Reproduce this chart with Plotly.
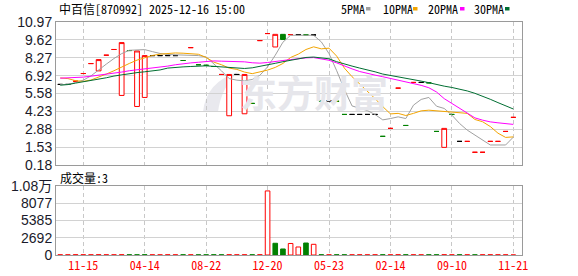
import plotly.graph_objects as go

# ---------------- data ----------------
dates_ticks = ["11-15", "04-14", "08-22", "12-20", "05-23", "02-14", "09-10", "11-21"]
tick_idx = [3, 11, 19, 27, 35, 43, 51, 59]

opens = [6.27, 6.27, 6.51, 7.09, 7.84, 7.29, 8.47, 8.90, 5.44, 8.82,
         4.61, 5.29, 8.44, 8.44, 8.44, 8.44, 8.07, 9.04, 7.75, 7.71,
         7.62, 7.02, 3.91, 7.02, 4.06, 4.84, 9.57, 10.10, 9.09, 10.04,
         10.02, 10.02, 10.00, 10.00, 5.03, 5.03, 5.00, 4.01, 4.01, 4.01,
         4.01, 4.01, 2.36, 2.96, 5.99, 3.18, 6.42, 6.42, 6.39, 2.73,
         1.53, 4.01, 1.98, 1.98, 1.16, 1.16, 1.98, 1.98, 2.73, 3.79]
closes = [6.27, 6.27, 6.51, 7.09, 7.84, 8.14, 8.47, 8.90, 9.42, 8.82,
          8.79, 8.44, 8.44, 8.44, 8.44, 8.44, 8.07, 9.04, 7.75, 7.71,
          7.62, 7.02, 7.02, 7.02, 7.02, 4.84, 9.57, 10.10, 10.04, 9.65,
          10.02, 10.02, 10.00, 10.00, 5.03, 5.03, 5.00, 4.01, 4.01, 4.01,
          4.01, 4.01, 2.36, 2.96, 5.99, 3.18, 6.42, 6.42, 6.39, 2.73,
          2.96, 4.01, 1.98, 1.98, 1.16, 1.16, 1.98, 1.98, 2.73, 3.79]
# candle colour class: r = up, g = down, k = flat
candle_cls = list("kkrrrrrrrg" "rrkkkkgrgg" "grrkrgrrrg" "rkgkgkggkk"
                  "kkgrrgrkgg" "rgkrrrrrrr")
volumes = [30, 25, 40, 35, 30, 45, 30, 25, 40, 35,
           30, 40, 25, 20, 30, 25, 35, 30, 25, 30,
           35, 30, 40, 25, 30, 35, 40, 10000, 1830, 940,
           1800, 1250, 1870, 1670, 40, 30, 35, 30, 25, 30,
           25, 30, 35, 30, 40, 35, 30, 25, 30, 35,
           40, 30, 35, 30, 25, 30, 35, 30, 25, 3]

ma5 = [6.26, 6.26, 6.41, 6.59, 6.91, 7.39, 7.80, 8.22, 8.59, 8.84,
       8.89, 8.89, 8.74, 8.60, 8.52, 8.49, 8.47, 8.47, 8.44, 8.34,
       7.84, 7.29, 6.71, 6.59, 6.54, 6.64, 6.96, 7.59, 8.47, 9.45,
       9.97, 9.97, 9.97, 9.97, 9.47, 8.59, 7.30, 5.90, 4.65, 4.45,
       4.30, 4.00, 3.60, 3.70, 3.83, 3.70, 4.71, 5.14, 5.29, 4.63,
       4.46, 3.96, 3.33, 2.83, 2.46, 2.08, 1.71, 1.71, 1.71, 2.30]
ma10 = [6.76, 6.71, 6.55, 6.50, 6.60, 6.80, 7.05, 7.30, 7.60, 7.85,
        8.10, 8.30, 8.45, 8.55, 8.62, 8.64, 8.62, 8.60, 8.54, 8.30,
        7.95, 7.75, 7.50, 7.40, 7.20, 7.08, 7.20, 7.35, 7.55, 7.85,
        8.30, 8.55, 8.90, 9.10, 8.95, 9.00, 8.40, 7.50, 6.85, 6.30,
        5.80, 5.20, 4.60, 4.05, 4.09, 3.93, 4.09, 4.28, 4.33, 4.28,
        4.20, 4.15, 4.13, 4.09, 3.63, 3.46, 3.10, 2.60, 2.28, 2.32]
ma20 = [6.74, 6.75, 6.77, 6.82, 6.89, 6.96, 7.06, 7.12, 7.20, 7.30,
        7.37, 7.42, 7.47, 7.55, 7.65, 7.75, 7.84, 7.89, 7.94, 7.99,
        8.04, 8.02, 8.02, 8.02, 7.97, 7.90, 7.87, 7.92, 7.97, 8.07,
        8.14, 8.22, 8.27, 8.29, 8.19, 8.09, 7.89, 7.64, 7.44, 7.24,
        7.09, 6.97, 6.85, 6.72, 6.58, 6.47, 6.35, 6.20, 6.02, 5.70,
        5.20, 4.84, 4.45, 4.09, 3.75, 3.58, 3.45, 3.38, 3.30, 3.26]
ma30 = [6.21, 6.26, 6.37, 6.46, 6.57, 6.67, 6.77, 6.90, 7.00, 7.08,
        7.16, 7.22, 7.29, 7.36, 7.50, 7.57, 7.59, 7.62, 7.65, 7.67,
        7.63, 7.60, 7.55, 7.50, 7.47, 7.52, 7.62, 7.75, 7.86, 7.98,
        8.10, 8.22, 8.30, 8.33, 8.27, 8.20, 7.98, 7.80, 7.65, 7.50,
        7.38, 7.22, 7.05, 6.95, 6.84, 6.76, 6.66, 6.52, 6.40, 6.25,
        6.14, 6.04, 5.92, 5.78, 5.60, 5.40, 5.15, 4.90, 4.65, 4.42]

price_ticks = [0.18, 1.53, 2.88, 4.23, 5.58, 6.92, 8.27, 9.62, 10.97]
vol_ticks = [0, 2692, 5385, 8077, 10770]
vol_tick_text = ["0", "2692", "5385", "8077", "1.08万"]

# ---------------- style ----------------
W, H = 578, 276
ML, MR, MT, MB = 56, 56, 22, 21
PW, PH = W - ML - MR, H - MT - MB
RED, GREEN, BLACK = "#ff0000", "#008000", "#000000"
MA_COLORS = ["#a0a0a0", "#f2a400", "#ff00ff", "#006e32"]
GRID = "#d2d2d2"
BORDER = "#9a9a9a"


def px(x):
    return (x - ML) / PW


def py(y):
    return (H - MB - y) / PH


idx = list(range(len(closes)))
fig = go.Figure()

# MA lines
for vals, col in zip([ma5, ma10, ma20, ma30], MA_COLORS):
    fig.add_trace(go.Scatter(x=idx, y=vals, mode="lines",
                             line=dict(color=col, width=1),
                             hoverinfo="skip", showlegend=False,
                             xaxis="x", yaxis="y"))

# candles by colour
for cls, col, fill in [("r", RED, "#ffffff"), ("g", GREEN, GREEN), ("k", BLACK, BLACK)]:
    sel = [i for i in idx if candle_cls[i] == cls]
    o = [opens[i] for i in sel]
    c = [closes[i] for i in sel]
    hi = [max(opens[i], closes[i]) for i in sel]
    lo = [min(opens[i], closes[i]) for i in sel]
    style = dict(line=dict(color=col, width=1), fillcolor=fill)
    fig.add_trace(go.Candlestick(x=sel, open=o, high=hi, low=lo, close=c,
                                 increasing=style, decreasing=style,
                                 whiskerwidth=0, hoverinfo="skip",
                                 showlegend=False, xaxis="x", yaxis="y"))

# volume bars: red hollow if close >= previous close, else green filled
vfill, vline = [], []
for i in idx:
    up = True if i == 0 else closes[i] >= closes[i - 1]
    vfill.append("#ffffff" if up else GREEN)
    vline.append(RED if up else GREEN)
fig.add_trace(go.Bar(x=idx, y=volumes, width=0.6,
                     marker=dict(color=vfill, line=dict(color=vline, width=1)),
                     hoverinfo="skip", showlegend=False, xaxis="x2", yaxis="y2"))

xr = [-0.55, 60.13]
axis_common = dict(showline=True, mirror=True, linecolor=BORDER, linewidth=1,
                   zeroline=False, ticks="", automargin=False)
num_font = "Liberation Sans Narrow, Liberation Sans, Arial"
fig.update_layout(
    width=W, height=H,
    margin=dict(l=ML, r=MR, t=MT, b=MB, autoexpand=False),
    paper_bgcolor="white", plot_bgcolor="white",
    showlegend=False, boxgap=0.38, boxgroupgap=0,
    xaxis=dict(domain=[0, 1], range=xr, anchor="y", tickvals=tick_idx,
               showticklabels=False, showgrid=True, gridcolor="#c8c8c8",
               griddash="4px,3px", gridwidth=1, rangeslider=dict(visible=False),
               **axis_common),
    yaxis=dict(domain=[py(165.3), 1], range=[price_ticks[0], price_ticks[-1]],
               anchor="x", tickvals=price_ticks,
               ticktext=[f"{v:.2f}" for v in price_ticks],
               showgrid=True, gridcolor=GRID, gridwidth=1,
               tickfont=dict(family=num_font, size=14, color="#1a1a2a"),
               **axis_common),
    xaxis2=dict(domain=[0, 1], range=xr, anchor="y2", tickvals=tick_idx,
                ticktext=dates_ticks, showgrid=True, gridcolor="#c8c8c8",
                griddash="4px,3px", gridwidth=1, ticklabelstandoff=0,
                tickfont=dict(family="Noto Sans Mono CJK SC, Liberation Mono, monospace",
                              size=12, color=RED),
                **axis_common),
    yaxis2=dict(domain=[0, py(186)], range=[0, 10770], anchor="x2",
                tickvals=vol_ticks, ticktext=vol_tick_text,
                showgrid=True, gridcolor=GRID, gridwidth=1,
                tickfont=dict(family=num_font + ", Noto Sans CJK SC", size=14, color="#1a1a2a"),
                **axis_common),
)

mono = "Noto Sans Mono CJK SC, Liberation Mono, Noto Sans CJK SC"
annos = [
    dict(text="中百信[870992] 2025-12-16 15:00", x=px(57), y=py(9),
         xanchor="left", yanchor="middle", font=dict(family=mono, size=12, color="#000")),
    dict(text="成交量:3", x=px(58), y=py(177),
         xanchor="left", yanchor="middle", font=dict(family=mono, size=12, color="#000")),
    dict(text="东方财富", x=px(314), y=py(92), xanchor="center", yanchor="middle",
         font=dict(family="Noto Sans CJK SC", size=37, color="#e6e6eb", weight="bold")),
]
legend_items = [("5PMA", 339, 366), ("10PMA", 381, 413), ("20PMA", 426, 460), ("30PMA", 472, 505)]
shapes = []
for (txt, tx, sx), col in zip(legend_items, MA_COLORS):
    annos.append(dict(text=txt, x=px(tx), y=py(9), xanchor="left", yanchor="middle",
                      font=dict(family=mono, size=12, color="#000")))
    shapes.append(dict(type="rect", xref="paper", yref="paper",
                       x0=px(sx), x1=px(sx + 4.5), y0=py(10.5), y1=py(7),
                       fillcolor=col, line=dict(width=0)))

# watermark leaf
leaf = [(203, 112), (206, 82), (238, 72), (221, 88), (218, 112)]
path = (f"M {px(leaf[0][0])},{py(leaf[0][1])} Q {px(leaf[1][0])},{py(leaf[1][1])} "
        f"{px(leaf[2][0])},{py(leaf[2][1])} Q {px(leaf[3][0])},{py(leaf[3][1])} "
        f"{px(leaf[4][0])},{py(leaf[4][1])} Z")
shapes.append(dict(type="path", xref="paper", yref="paper", path=path,
                   fillcolor="#e9e9ee", line=dict(width=0), layer="below"))

for a in annos:
    a.update(xref="paper", yref="paper", showarrow=False)
fig.update_layout(annotations=annos, shapes=shapes)

fig.write_html("out.html")
